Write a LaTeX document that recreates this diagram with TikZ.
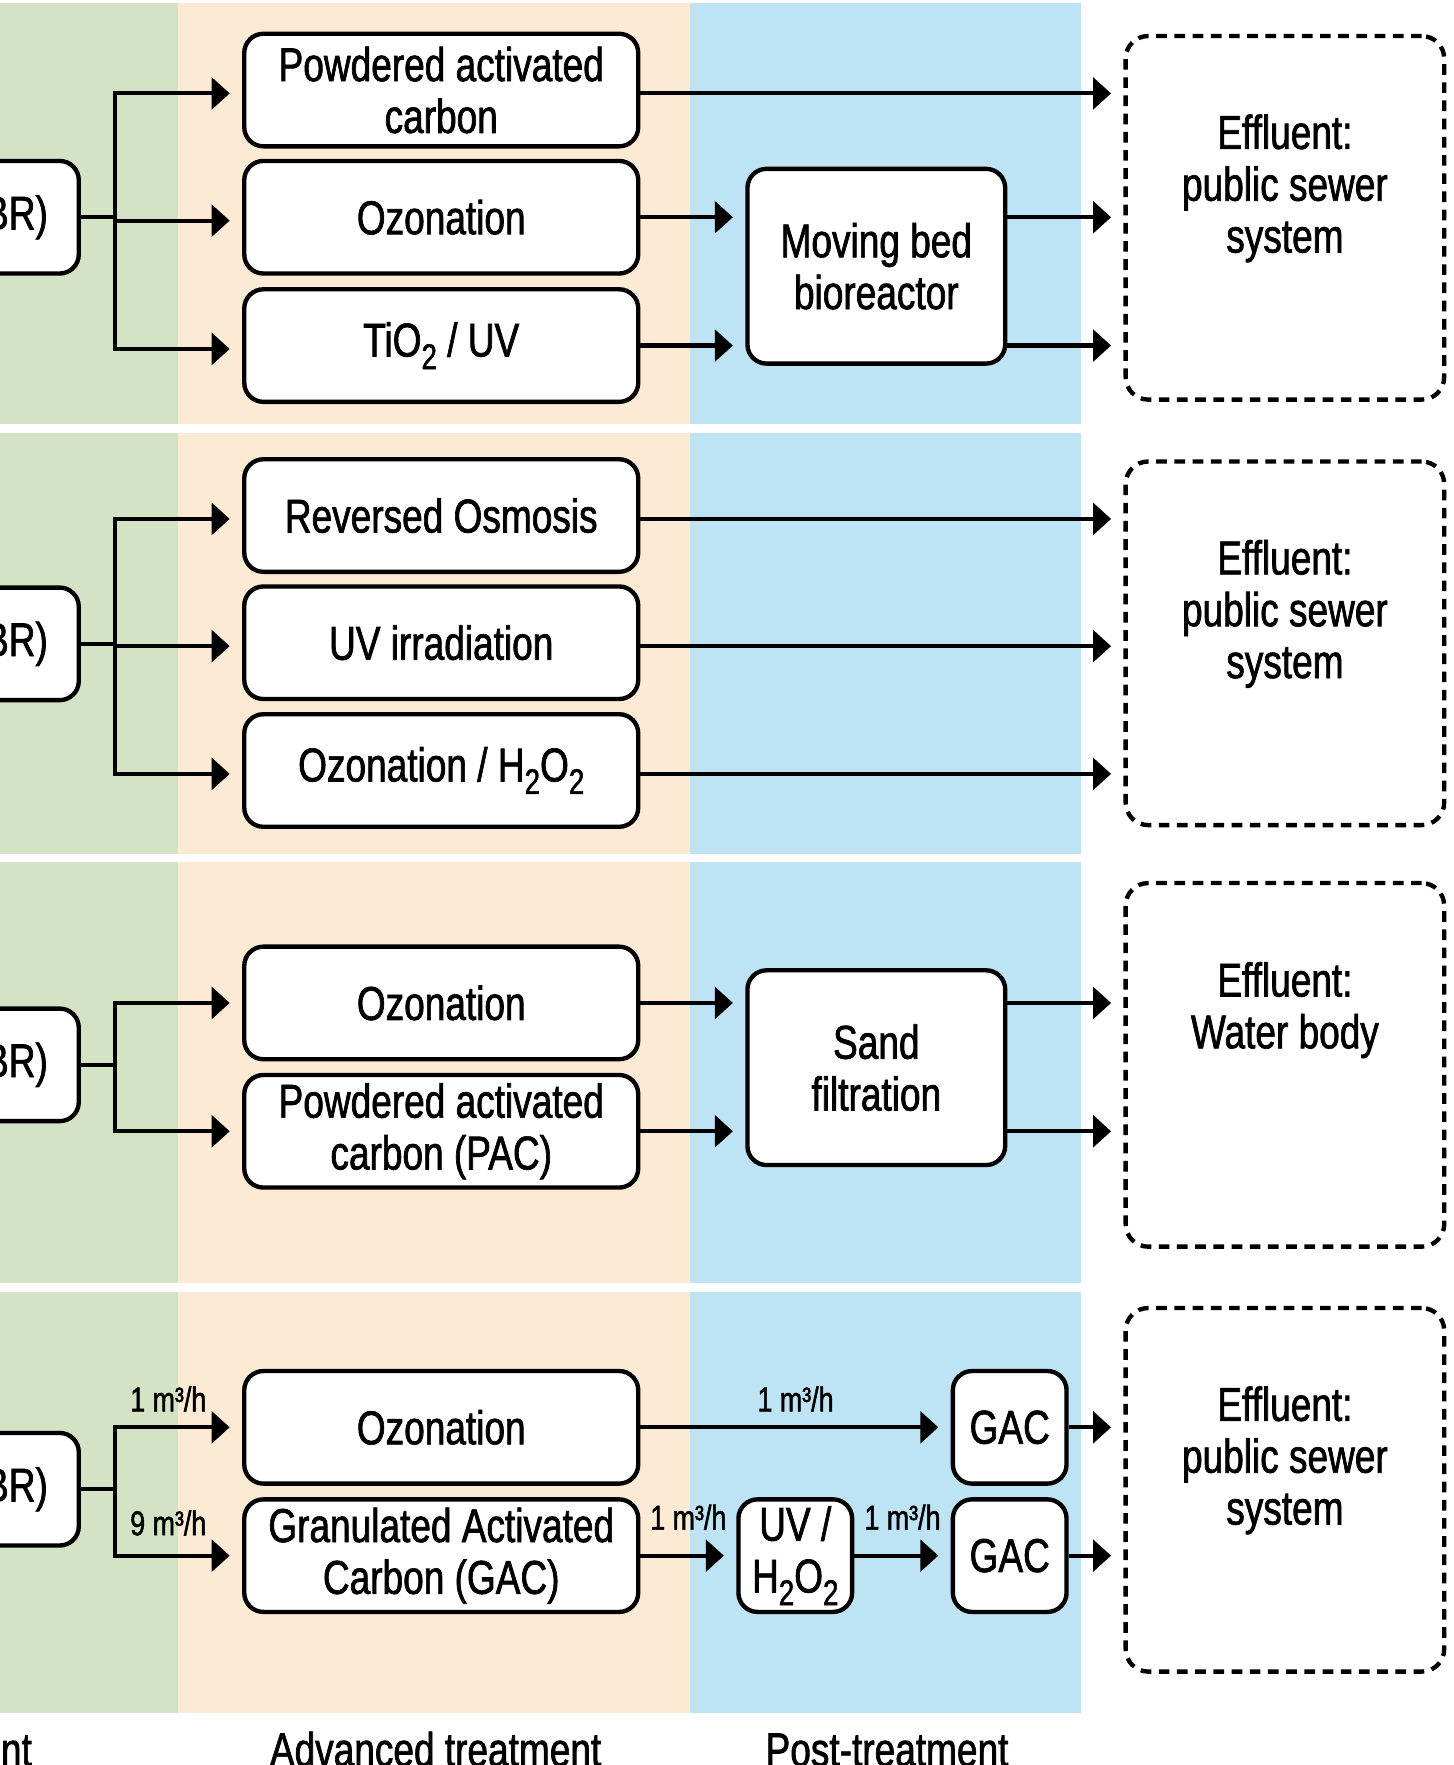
\documentclass[tikz,border=0pt]{standalone}
\usepackage{fontspec}
\setmainfont{Liberation Sans}[FakeStretch=0.78,FakeBold=1.4]
\usetikzlibrary{arrows.meta}
\definecolor{bandgreen}{RGB}{211,227,195}
\definecolor{bandpeach}{RGB}{252,234,212}
\definecolor{bandblue}{RGB}{189,227,245}
\newcommand{\lowsub}[1]{\raisebox{-0.5ex}{\fontsize{9}{9}\selectfont #1}}
\begin{document}
\begin{tikzpicture}[x=1cm,y=-1cm]
        \tikzstyle{stage}=[draw, line width=1.1pt, fill=white, rounded corners=0.17cm, minimum width=3.5cm, minimum height=1cm, inner sep=0pt, align=center, font=\fontsize{12}{13.1}\selectfont]
        \tikzstyle{post}=[stage, minimum width=2.29cm, minimum height=1.73cm]
        \tikzstyle{unit}=[stage, minimum width=1.01cm, minimum height=1cm]
        \tikzstyle{source}=[stage, minimum width=1.5cm]
        \tikzstyle{effluent}=[draw, line width=1.1pt, dash pattern=on 2.7pt off 1.9pt, rounded corners=0.2cm, fill=white, minimum width=2.83cm, minimum height=3.23cm]
        \tikzstyle{efftext}=[anchor=north, align=center, inner sep=0pt, font=\fontsize{12}{13.1}\selectfont]
        \tikzstyle{flow}=[line width=1.05pt, -{Triangle[length=0.16cm,width=0.28cm]}, shorten >=0.11cm]
        \tikzstyle{rate}=[inner sep=0pt, font=\fontsize{8.7}{10}\selectfont]
        \tikzstyle{column}=[anchor=base, inner sep=0pt, font=\fontsize{12}{13.1}\selectfont]

        \useasboundingbox (0,0) rectangle (12.91,15.68);
        \clip (0,0) rectangle (12.91,15.68);

        \foreach \t in {0.03,3.85,7.66,11.48}{
            \fill[bandgreen] (-0.1,\t) rectangle (1.58,\t+3.74);
            \fill[bandpeach] (1.58,\t) rectangle (6.13,\t+3.74);
            \fill[bandblue] (6.13,\t) rectangle (9.60,\t+3.74);
        }

        \node[source] (mbr1) at (-0.05,1.93) {(MBR)};
        \node[stage] (pac1) at (3.92,0.80) {Powdered activated\\carbon};
        \node[stage] (ozo1) at (3.92,1.93) {Ozonation};
        \node[stage] (tio1) at (3.92,3.07) {TiO\lowsub{2} / UV};
        \node[post] (mbbr) at (7.785,2.365) {Moving bed\\bioreactor};
        \node[effluent] (eff1) at (11.415,1.935) {};
        \node[efftext] at (11.415,1.01) {Effluent:\\public sewer\\system};
        \coordinate (br1) at (1.02,1.93);
        \draw[line width=1.05pt] (mbr1.east) -- (br1);
        \foreach \b in {pac1,ozo1,tio1} \draw[flow] (br1) |- ([yshift=-0.03cm]\b.west);
        \draw[flow] ([yshift=-0.03cm]pac1.east) -- ([yshift=-0.03cm]pac1.east -| eff1.west);
        \draw[flow] (ozo1.east) -- (ozo1.east -| mbbr.west);
        \draw[flow] (tio1.east) -- (tio1.east -| mbbr.west);
        \draw[flow] (mbbr.east |- ozo1) -- (eff1.west |- ozo1);
        \draw[flow] (mbbr.east |- tio1) -- (eff1.west |- tio1);

        \node[source] (mbr2) at (-0.05,5.72) {(MBR)};
        \node[stage] (ro2) at (3.92,4.58) {Reversed Osmosis};
        \node[stage] (uv2) at (3.92,5.71) {UV irradiation};
        \node[stage] (ozh2) at (3.92,6.845) {Ozonation / H\lowsub{2}O\lowsub{2}};
        \node[effluent] (eff2) at (11.415,5.715) {};
        \node[efftext] at (11.415,4.79) {Effluent:\\public sewer\\system};
        \coordinate (br2) at (1.02,5.72);
        \draw[line width=1.05pt] (mbr2.east) -- (br2);
        \foreach \b in {ro2,uv2,ozh2}{
            \draw[flow] (br2) |- ([yshift=-0.03cm]\b.west);
            \draw[flow] ([yshift=-0.03cm]\b.east) -- ([yshift=-0.03cm]\b.east -| eff2.west);
        }

        \node[source] (mbr3) at (-0.05,9.46) {(MBR)};
        \node[stage] (ozo3) at (3.92,8.91) {Ozonation};
        \node[stage] (pac3) at (3.92,10.05) {Powdered activated\\carbon (PAC)};
        \node[post] (sand) at (7.785,9.485) {Sand\\filtration};
        \node[effluent] (eff3) at (11.415,9.46) {};
        \node[efftext] at (11.415,8.54) {Effluent:\\Water body};
        \coordinate (br3) at (1.02,9.46);
        \draw[line width=1.05pt] (mbr3.east) -- (br3);
        \foreach \b in {ozo3,pac3}{
            \draw[flow] (br3) |- (\b.west);
            \draw[flow] (\b.east) -- (\b.east -| sand.west);
            \draw[flow] (sand.east |- \b) -- (eff3.west |- \b);
        }

        \node[source] (mbr4) at (-0.05,13.23) {(MBR)};
        \node[stage] (ozo4) at (3.92,12.68) {Ozonation};
        \node[stage] (gac4) at (3.92,13.82) {Granulated Activated\\Carbon (GAC)};
        \node[unit] (uvh) at (7.065,13.82) {UV /\\H\lowsub{2}O\lowsub{2}};
        \node[unit] (gaca) at (8.97,12.68) {GAC};
        \node[unit] (gacb) at (8.97,13.82) {GAC};
        \node[effluent] (eff4) at (11.415,13.235) {};
        \node[efftext] at (11.415,12.31) {Effluent:\\public sewer\\system};
        \coordinate (br4) at (1.02,13.23);
        \draw[line width=1.05pt] (mbr4.east) -- (br4);
        \draw[flow] (br4) |- node[rate, above=0.12cm, pos=0.71] {1 m³/h} (ozo4.west);
        \draw[flow] (br4) |- node[rate, above=0.16cm, pos=0.71] {9 m³/h} (gac4.west);
        \draw[flow] (ozo4) -- node[rate, above=0.12cm] {1 m³/h} (gaca);
        \draw[flow] (gac4) -- node[rate, above=0.21cm] {1 m³/h} (uvh);
        \draw[flow] (uvh) -- node[rate, above=0.21cm] {1 m³/h} (gacb);
        \draw[flow] (gaca.east) -- (gaca.east -| eff4.west);
        \draw[flow] (gacb.east) -- (gacb.east -| eff4.west);

        \node[column, anchor=base east] (col1) at (0.29,15.69) {treatment};
        \node[column] (col2) at (3.87,15.69) {Advanced treatment};
        \node[column] (col3) at (7.88,15.69) {Post-treatment};
\end{tikzpicture}
\end{document}
